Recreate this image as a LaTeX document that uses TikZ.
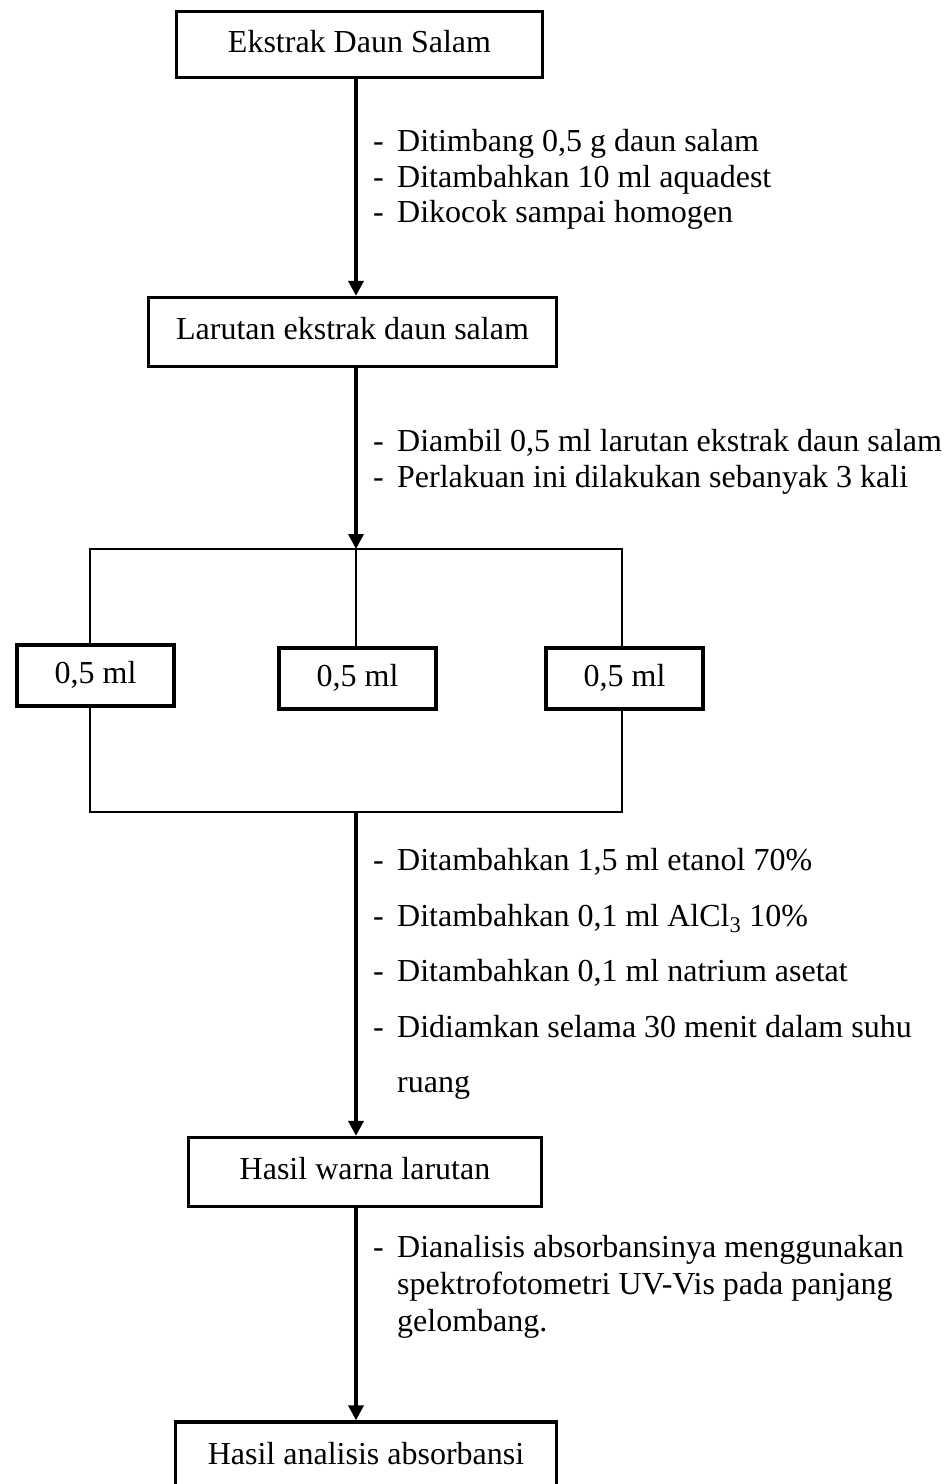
\documentclass[tikz,border=0pt]{standalone}
\usepackage{fontspec}
\setmainfont{Liberation Serif}
\usetikzlibrary{arrows.meta}
\newcommand{\dsh}{\makebox[24pt][l]{-}}
\begin{document}
\begin{tikzpicture}[x=1pt,y=-1pt,
  every node/.style={font=\fontsize{32}{37}\selectfont},
  box/.style={draw,line width=3.3pt,inner sep=0pt,text height=22pt,text depth=7pt,align=center},
  sbox/.style={draw,line width=4pt,inner sep=0pt,text height=22pt,text depth=7pt,minimum width=157pt,minimum height=61pt},
  arr/.style={line width=3.3pt,-{Triangle[width=15pt,length=15pt]}},
  brk/.style={line width=2.8pt},
  txt/.style={anchor=base west,inner sep=0pt}]
\useasboundingbox (0,0) rectangle (950,1484);
\clip (0,0) rectangle (950,1484);
\fill[white] (0,0) rectangle (950,1484);

% boxes
\node[box,minimum width=366pt,minimum height=66pt] (b1) at (359.5,44.5) {Ekstrak Daun Salam};
\node[box,minimum width=408pt,minimum height=69pt] (b2) at (352.5,332) {Larutan ekstrak daun salam};
\node[sbox] (s1) at (95.5,675.5) {0,5 ml};
\node[sbox] (s2) at (357.5,678.5) {0,5 ml};
\node[sbox] (s3) at (624.5,678.5) {0,5 ml};
\node[box,minimum width=353pt,minimum height=69pt] (b3) at (365,1172) {Hasil warna larutan};
\node[box,minimum width=381pt,minimum height=70pt] (b4) at (366,1457) {Hasil analisis absorbansi};

% helper coordinates
\coordinate (sp) at (356,0);
\coordinate (tl) at (90,549);
\coordinate (tr) at (622,549);
\coordinate (bt) at (356,549);
\coordinate (bl) at (90,812);
\coordinate (br) at (622,812);
\coordinate (bm) at (356,812);

% connectors
\draw[arr] (b1.south -| sp) -- (b2.north -| sp);
\draw[arr] (b2.south -| sp) -- (bt);
\draw[brk] (s1.north -| tl) -- (tl) -- (tr) -- (s3.north -| tr);
\draw[brk] (bt) -- (s2.north -| bt);
\draw[brk] (s1.south -| bl) -- (bl) -- (br) -- (s3.south -| br);
\draw[arr] (bm) -- (b3.north -| bm);
\draw[arr] (b3.south -| sp) -- (b4.north -| sp);

% texts
\node[txt] (t1a) at (373,151) {\dsh Ditimbang 0,5 g daun salam};
\node[txt] (t1b) at (373,187) {\dsh Ditambahkan 10 ml aquadest};
\node[txt] (t1c) at (373,222) {\dsh Dikocok sampai homogen};

\node[txt] (t2a) at (373,451) {\dsh Diambil 0,5 ml larutan ekstrak daun salam};
\node[txt] (t2b) at (373,487) {\dsh Perlakuan ini dilakukan sebanyak 3 kali};

\node[txt] (t3a) at (373,870) {\dsh Ditambahkan 1,5 ml etanol 70\%};
\node[txt] (t3b) at (373,926) {\dsh Ditambahkan 0,1 ml AlCl\textsubscript{3} 10\%};
\node[txt] (t3c) at (373,981) {\dsh Ditambahkan 0,1 ml natrium asetat};
\node[txt] (t3d) at (373,1037) {\dsh Didiamkan selama 30 menit dalam suhu};
\node[txt] (t3e) at (397,1092) {ruang};

\node[txt] (t4a) at (373,1257) {\dsh Dianalisis absorbansinya menggunakan};
\node[txt] (t4b) at (397,1294) {spektrofotometri UV-Vis pada panjang};
\node[txt] (t4c) at (397,1331) {gelombang.};
\end{tikzpicture}
\end{document}
